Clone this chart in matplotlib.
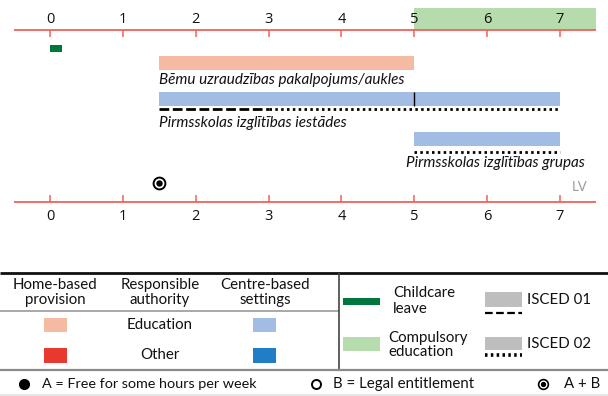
import matplotlib
matplotlib.use("Agg")
import matplotlib.pyplot as plt
from matplotlib.patches import Rectangle

plt.rcParams['lines.scale_dashes'] = False
plt.rcParams['font.family'] = ['Lato', 'DejaVu Sans']

# ---------------- data ----------------
years = [0, 1, 2, 3, 4, 5, 6, 7]
year_labels = ["0", "1", "2", "3", "4", "5", "6", "7"]
x_range = (-0.5, 7.5)
compulsory_start = 5.0
childcare_leave = (0.0, 0.16)
home_label = "Bēmu uzraudzības pakalpojums/aukles"
home_span = (1.5, 5.0)
centre1_label = "Pirmsskolas izglītības iestādes"
centre1_span = (1.5, 7.0)
centre1_divider = 5.0
centre1_isced01 = (1.5, 3.0)
centre1_isced02 = (3.0, 7.0)
centre2_label = "Pirmsskolas izglītības grupas"
centre2_span = (5.0, 7.0)
centre2_isced02 = (5.0, 7.0)
entitlement_age = 1.5
country = "LV"

# ---------------- style ----------------
RED_AXIS = "#F0615C"
SALMON = "#F6B9A2"
BLUE_EDU = "#A2BCE3"
GREEN_COMP = "#B6DBAC"
GREEN_LEAVE = "#00773D"
RED_OTHER = "#E8392F"
BLUE_OTHER = "#1F7EC6"
GREY_BOX = "#BEBEBE"
DASH = (0, (7.0, 2.6))
DOT = (0, (1.8, 2.4))

W, H = 608, 396
fig = plt.figure(figsize=(W / 100, H / 100), dpi=100)

x0_px = 50.0
px_per_year = 72.86
left_px = x0_px + px_per_year * x_range[0]
right_px = x0_px + px_per_year * x_range[1]
ax = fig.add_axes([left_px / W, 0, (right_px - left_px) / W, 1])
ax.set_xlim(*x_range)
ax.set_ylim(H, 0)
ax.axis("off")

# compulsory education band
ax.barh(18.75, x_range[1] - compulsory_start, left=compulsory_start, height=21.5,
        color=GREEN_COMP, lw=0, zorder=1)

# top and bottom axes
for y_line, t0, t1, y_lab in [(29.5, 29.5, 36.5, 19.5), (201.7, 194.5, 201.7, 216)]:
    ax.hlines(y_line, x_range[0], x_range[1], color=RED_AXIS, lw=1.3, zorder=2)
    ax.vlines(years, t0, t1, color=RED_AXIS, lw=1.1, zorder=2)
    for yr, lab in zip(years, year_labels):
        ax.text(yr, y_lab, lab, ha="center", va="center", fontsize=10.5,
                family=["Open Sans", "DejaVu Sans"], color="#111111", zorder=3)

# childcare leave
ax.barh(48.4, childcare_leave[1] - childcare_leave[0], left=childcare_leave[0],
        height=6.7, color=GREEN_LEAVE, lw=0)

# home-based provision
ax.barh(62.7, home_span[1] - home_span[0], left=home_span[0], height=14,
        color=SALMON, lw=0)
ax.text(home_span[0], 80, home_label, ha="left", va="center", fontsize=11,
        style="italic", color="#111111")

# centre-based 1
ax.barh(98.9, centre1_span[1] - centre1_span[0], left=centre1_span[0], height=14.3,
        color=BLUE_EDU, lw=0)
ax.vlines(centre1_divider, 91.7, 106, color="black", lw=1.0)
ax.hlines(109.3, *centre1_isced01, color="black", lw=2.0, linestyles=[DASH],
          capstyle="butt")
ax.hlines(109.3, *centre1_isced02, color="black", lw=2.0, linestyles=[DOT],
          capstyle="butt")
ax.text(centre1_span[0], 123.3, centre1_label, ha="left", va="center", fontsize=11,
        style="italic", color="#111111")

# centre-based 2
ax.barh(139.2, centre2_span[1] - centre2_span[0], left=centre2_span[0], height=13.7,
        color=BLUE_EDU, lw=0)
ax.hlines(151.5, *centre2_isced02, color="black", lw=2.0, linestyles=[DOT],
          capstyle="butt")
ax.text(7.34, 163.3, centre2_label, ha="right", va="center", fontsize=11,
        style="italic", color="#111111")

# entitlement marker (A + B)
ax.plot([entitlement_age], [183.3], marker="o", ms=8.5, mfc="white", mec="black",
        mew=1.4, ls="none", zorder=4)
ax.plot([entitlement_age], [183.3], marker="o", ms=3.6, mfc="black", mec="black",
        ls="none", zorder=5)

ax.text(7.27, 186.7, country, ha="center", va="center", fontsize=9.5, color="#9A9A9A")

# ---------------- legend ----------------
lg = fig.add_axes([0, 0, 1, 1])
lg.set_xlim(0, W)
lg.set_ylim(H, 0)
lg.axis("off")

lg.hlines(272.5, 0, W, color="#111111", lw=2.0)
lg.hlines(310.7, 0, 339, color="#9A9A9A", lw=1.2)
lg.vlines(339, 272.5, 369, color="#444444", lw=1.2)
lg.hlines(369.5, 0, W, color="#8A8A8A", lw=1.6)
lg.hlines(394.5, 0, W, color="#E6E6E6", lw=1.5)

fs = 10.8
for cx, l1, l2 in [(55, "Home-based", "provision"), (160, "Responsible", "authority"),
                   (265, "Centre-based", "settings")]:
    lg.text(cx, 285, l1, ha="center", va="center", fontsize=fs, color="#111111")
    lg.text(cx, 300, l2, ha="center", va="center", fontsize=fs, color="#111111")

for (x, y, w, h, c) in [(44, 318, 23, 14, SALMON), (253, 318, 23, 14, BLUE_EDU),
                        (44, 348, 23, 15, RED_OTHER), (253, 348, 23, 15, BLUE_OTHER)]:
    lg.add_patch(Rectangle((x, y), w, h, color=c, lw=0))
lg.text(160, 325, "Education", ha="center", va="center", fontsize=fs, color="#111111")
lg.text(160, 355, "Other", ha="center", va="center", fontsize=fs, color="#111111")

lg.add_patch(Rectangle((343, 298), 37, 6.5, color=GREEN_LEAVE, lw=0))
lg.text(393, 293, "Childcare", ha="left", va="center", fontsize=fs, color="#111111")
lg.text(393, 309, "leave", ha="left", va="center", fontsize=fs, color="#111111")
lg.add_patch(Rectangle((343, 337), 37, 14, color=GREEN_COMP, lw=0))
lg.text(388, 338, "Compulsory", ha="left", va="center", fontsize=fs, color="#111111")
lg.text(388, 352, "education", ha="left", va="center", fontsize=fs, color="#111111")

lg.add_patch(Rectangle((485, 292), 37, 15, color=GREY_BOX, lw=0))
lg.hlines(312.5, 485, 522, color="black", lw=1.6, linestyles=[(0, (5.5, 2.5))],
          capstyle="butt")
lg.text(527, 300, "ISCED 01", ha="left", va="center", fontsize=fs, color="#111111")
lg.add_patch(Rectangle((485, 337), 37, 13, color=GREY_BOX, lw=0))
lg.hlines(355, 485, 522, color="black", lw=2.6, linestyles=[DOT], capstyle="butt")
lg.text(527, 344, "ISCED 02", ha="left", va="center", fontsize=fs, color="#111111")

lg.plot([24], [384], marker="o", ms=7, mfc="black", mec="black", ls="none")
lg.text(42, 384, "A = Free for some hours per week", ha="left", va="center",
        fontsize=10.4, color="#111111")
lg.plot([316], [384], marker="o", ms=6.5, mfc="white", mec="black", mew=1.4, ls="none")
lg.text(333, 384, "B = Legal entitlement", ha="left", va="center",
        fontsize=fs, color="#111111")
lg.plot([543], [384], marker="o", ms=7, mfc="white", mec="black", mew=1.2, ls="none")
lg.plot([543], [384], marker="o", ms=2.8, mfc="black", mec="black", ls="none")
lg.text(564, 384, "A + B", ha="left", va="center", fontsize=fs, color="#111111")

fig.savefig("out.png", dpi=100)
